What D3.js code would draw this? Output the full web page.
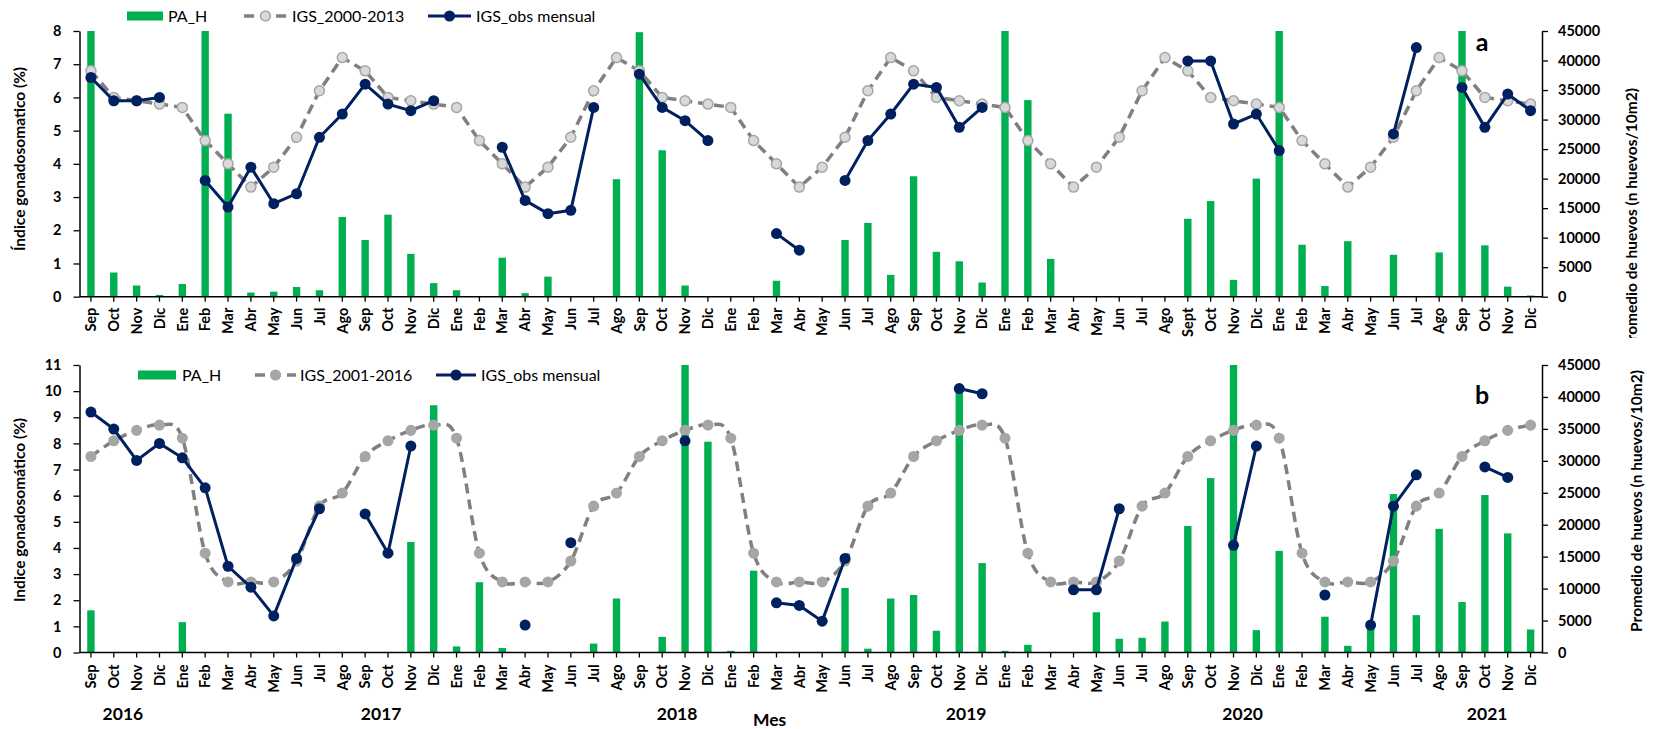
<!DOCTYPE html>
<html><head><meta charset="utf-8">
<script src="https://cdn.jsdelivr.net/npm/d3@7"></script>
<style>
body{margin:0;background:#fff}
svg{display:block}
text{font-family:Lato,"Open Sans",sans-serif;fill:#000}
</style>
</head><body>
<svg id="c" width="1655" height="729"></svg>
<script>
// ---------- DATA ----------
const monthsA = ["Sep","Oct","Nov","Dic","Ene","Feb","Mar","Abr","May","Jun","Jul","Ago",
  "Sep","Oct","Nov","Dic","Ene","Feb","Mar","Abr","May","Jun","Jul","Ago",
  "Sep","Oct","Nov","Dic","Ene","Feb","Mar","Abr","May","Jun","Jul","Ago",
  "Sep","Oct","Nov","Dic","Ene","Feb","Mar","Abr","May","Jun","Jul","Ago",
  "Sept","Oct","Nov","Dic","Ene","Feb","Mar","Abr","May","Jun","Jul","Ago",
  "Sep","Oct","Nov","Dic"];
const monthsB = ["Sep","Oct","Nov","Dic","Ene","Feb","Mar","Abr","May","Jun","Jul","Ago",
  "Sep","Oct","Nov","Dic","Ene","Feb","Mar","Abr","May","Jun","Jul","Ago",
  "Sep","Oct","Nov","Dic","Ene","Feb","Mar","Abr","May","Jun","Jul","Ago",
  "Sep","Oct","Nov","Dic","Ene","Feb","Mar","Abr","May","Jun","Jul","Ago",
  "Sep","Oct","Nov","Dic","Ene","Feb","Mar","Abr","May","Jun","Jul","Ago",
  "Sep","Oct","Nov","Dic"];

// Panel a
const paA = [45000,4100,1900,300,2150,45000,31000,700,850,1650,1100,13500,
  9600,13900,7250,2300,1100,0,6600,600,3400,100,100,19900,
  44800,24800,1900,0,0,100,2700,0,0,9600,12500,3700,
  20400,7600,6000,2400,45000,33300,6400,0,0,0,0,0,
  13200,16200,2850,20000,45000,8800,1800,9400,0,7100,0,7500,
  45000,8700,1700,200];
const igsA = [6.8,6.0,5.9,5.8,5.7,4.7,4.0,3.3,3.9,4.8,6.2,7.2,
  6.8,6.0,5.9,5.8,5.7,4.7,4.0,3.3,3.9,4.8,6.2,7.2,
  6.8,6.0,5.9,5.8,5.7,4.7,4.0,3.3,3.9,4.8,6.2,7.2,
  6.8,6.0,5.9,5.8,5.7,4.7,4.0,3.3,3.9,4.8,6.2,7.2,
  6.8,6.0,5.9,5.8,5.7,4.7,4.0,3.3,3.9,4.8,6.2,7.2,
  6.8,6.0,5.9,5.8];
const obsA = [6.6,5.9,5.9,6.0,null,3.5,2.7,3.9,2.8,3.1,4.8,5.5,
  6.4,5.8,5.6,5.9,null,null,4.5,2.9,2.5,2.6,5.7,null,
  6.7,5.7,5.3,4.7,null,null,1.9,1.4,null,3.5,4.7,5.5,
  6.4,6.3,5.1,5.7,null,null,null,null,null,null,null,null,
  7.1,7.1,5.2,5.5,4.4,null,null,null,null,4.9,7.5,null,
  6.3,5.1,6.1,5.6];

// Panel b
const paB = [6600,0,0,0,4750,0,0,0,0,0,0,0,
  0,0,17300,38700,950,11000,700,0,0,0,1400,8450,
  0,2450,45000,33000,260,12800,0,0,0,10100,600,8450,
  9000,3400,41000,14000,260,1200,0,0,6300,2150,2300,4850,
  19800,27300,45000,3500,15900,0,5600,1050,4400,24800,5850,19350,
  7900,24650,18650,3600];
const igsB = [7.5,8.1,8.5,8.7,8.2,3.8,2.7,2.7,2.7,3.5,5.6,6.1,
  7.5,8.1,8.5,8.7,8.2,3.8,2.7,2.7,2.7,3.5,5.6,6.1,
  7.5,8.1,8.5,8.7,8.2,3.8,2.7,2.7,2.7,3.5,5.6,6.1,
  7.5,8.1,8.5,8.7,8.2,3.8,2.7,2.7,2.7,3.5,5.6,6.1,
  7.5,8.1,8.5,8.7,8.2,3.8,2.7,2.7,2.7,3.5,5.6,6.1,
  7.5,8.1,8.5,8.7];
const obsB = [9.2,8.55,7.35,8.0,7.45,6.3,3.3,2.5,1.4,3.6,5.5,null,
  5.3,3.8,7.9,null,null,null,null,1.05,null,4.2,null,null,
  null,null,8.1,null,null,null,1.9,1.8,1.2,3.6,null,null,
  null,null,10.1,9.9,null,null,null,2.4,2.4,5.5,null,null,
  null,null,4.1,7.9,null,null,2.2,null,1.05,5.6,6.8,null,
  null,7.1,6.7,null];

const yearLabels = ["2016","2017","2018","2019","2020","2021"];
const leftTicksA = [0,1,2,3,4,5,6,7,8];
const leftTicksB = [0,1,2,3,4,5,6,7,8,9,10,11];
const rightTicks = [0,5000,10000,15000,20000,25000,30000,35000,40000,45000];

// ---------- LAYOUT ----------
const W = 1655, H = 729;
const svg = d3.select("#c");
const NAVY = "#002060", GREEN = "#00B050", DGRAY = "#808080";
const x = d3.scaleBand().domain(d3.range(64)).range([79.5, 1542]);
const cx = i => x(i) + x.bandwidth() / 2;

function panel(p) {
  const g = svg.append("g");
  if (p.coverY != null) {
    g.append("rect").attr("x", 0).attr("y", p.coverY).attr("width", W)
      .attr("height", H - p.coverY).attr("fill", "#fff");
  }
  const yL = d3.scaleLinear().domain([0, p.leftMax]).range([p.y0, p.y1]);
  const yR = d3.scaleLinear().domain([0, 45000]).range([p.y0, p.y1]).clamp(true);

  // bars
  g.append("g").selectAll("rect").data(p.pa).join("rect")
    .attr("x", (d, i) => cx(i) - 3.7).attr("width", 7.4)
    .attr("y", d => yR(d)).attr("height", d => p.y0 - yR(d))
    .attr("fill", GREEN);

  // axes
  const styleAxis = (sel) => {
    sel.selectAll("path.domain").attr("stroke", "#000").attr("stroke-width", 1.5);
    sel.selectAll(".tick line").attr("stroke", "#000").attr("stroke-width", 1.3);
    sel.selectAll("text").style("font-size", "14.5px").style("font-weight", "700");
  };
  const ax = g.append("g").attr("transform", `translate(79.5,0)`)
    .call(d3.axisLeft(yL).tickValues(p.leftTicks).tickSize(6).tickSizeOuter(0).tickPadding(12));
  styleAxis(ax);
  const ar = g.append("g").attr("transform", `translate(1542,0)`)
    .call(d3.axisRight(yR).tickValues(rightTicks).tickFormat(d3.format("d"))
      .tickSize(6).tickSizeOuter(0).tickPadding(10));
  styleAxis(ar);
  const ab = g.append("g").attr("transform", `translate(0,${p.y0})`)
    .call(d3.axisBottom(x).tickSize(5).tickSizeOuter(0).tickFormat(i => p.labels[i]));
  styleAxis(ab);
  ab.selectAll("text").attr("transform", "rotate(-90)").attr("text-anchor", "end")
    .attr("x", -p.labOff).attr("y", 0).attr("dy", "0.36em");
  ab.select("path.domain").attr("d", `M79.5,0H1542`);

  // climatology line
  const lineC = d3.line().x((d, i) => cx(i)).y(d => yL(d)).curve(p.smooth ? d3.curveCardinal.tension(0) : d3.curveLinear);
  g.append("path").attr("d", lineC(p.igs)).attr("fill", "none")
    .attr("stroke", DGRAY).attr("stroke-width", 3.5).attr("stroke-dasharray", "10,6");
  g.append("g").selectAll("circle").data(p.igs).join("circle")
    .attr("cx", (d, i) => cx(i)).attr("cy", d => yL(d)).attr("r", p.climR)
    .attr("fill", p.climFill).attr("stroke", p.climStroke).attr("stroke-width", 1.5);

  // observed line
  const lineO = d3.line().defined(d => d != null).x((d, i) => cx(i)).y(d => yL(d));
  g.append("path").attr("d", lineO(p.obs)).attr("fill", "none")
    .attr("stroke", NAVY).attr("stroke-width", 3);
  g.append("g").selectAll("circle").data(p.obs.map((d, i) => ({d, i})).filter(o => o.d != null)).join("circle")
    .attr("cx", o => cx(o.i)).attr("cy", o => yL(o.d)).attr("r", 5.5).attr("fill", NAVY);

  // legend
  const L = p.leg, ly = p.legY;
  const lg = g.append("g");
  lg.append("rect").attr("x", L[0]).attr("y", ly - 4.5).attr("width", L[1] - L[0]).attr("height", 9).attr("fill", GREEN);
  lg.append("text").attr("x", L[2]).attr("y", ly).attr("dy", "0.36em").style("font-size", "16px").text("PA_H");
  lg.append("line").attr("x1", L[3]).attr("x2", L[4]).attr("y1", ly).attr("y2", ly)
    .attr("stroke", DGRAY).attr("stroke-width", 3.5).attr("stroke-dasharray", "10,6");
  lg.append("circle").attr("cx", (L[3] + L[4]) / 2).attr("cy", ly).attr("r", p.climR)
    .attr("fill", p.climFill).attr("stroke", p.climStroke).attr("stroke-width", 1.5);
  lg.append("text").attr("x", L[5]).attr("y", ly).attr("dy", "0.36em").style("font-size", "16px").text(p.climName);
  lg.append("line").attr("x1", L[6]).attr("x2", L[7]).attr("y1", ly).attr("y2", ly)
    .attr("stroke", NAVY).attr("stroke-width", 3);
  lg.append("circle").attr("cx", (L[6] + L[7]) / 2).attr("cy", ly).attr("r", 5.5).attr("fill", NAVY);
  lg.append("text").attr("x", L[8]).attr("y", ly).attr("dy", "0.36em").style("font-size", "16px").text("IGS_obs mensual");

  // titles
  g.append("text").attr("transform", `translate(19,${p.lTitleY}) rotate(-90)`).attr("text-anchor", "middle")
    .attr("dy", "0.36em").style("font-size", "15.5px").style("font-weight", "700").text(p.lTitle);
  g.append("text").attr("transform", `translate(${p.rTitleX},${p.rTitleY}) rotate(-90)`).attr("text-anchor", "middle")
    .attr("dy", "0.36em").style("font-size", "15.5px").style("font-weight", "700").text(p.rTitle);
  g.append("text").attr("x", p.letter[1]).attr("y", p.letter[2]).attr("text-anchor", "middle")
    .attr("dy", "0.36em").style("font-size", "25px").style("font-weight", "700").text(p.letter[0]);
  return g;
}

panel({
  y0: 296.7, y1: 31, leftMax: 8, leftTicks: leftTicksA, labels: monthsA, labOff: 11,
  pa: paA, igs: igsA, obs: obsA, smooth: false,
  climR: 5, climFill: "#d9d9d9", climStroke: "#a6a6a6", climName: "IGS_2000-2013",
  legY: 16, leg: [127, 163, 168, 244, 287, 292, 428, 471, 476],
  lTitle: "Índice gonadosomatico (%)", lTitleY: 159,
  rTitle: "Promedio de huevos (n huevos/10m2)", rTitleX: 1631, rTitleY: 219,
  letter: ["a", 1482, 42]
});

const gb = panel({
  coverY: 338,
  y0: 652.5, y1: 365, leftMax: 11, leftTicks: leftTicksB, labels: monthsB, labOff: 12,
  pa: paB, igs: igsB, obs: obsB, smooth: true,
  climR: 4.8, climFill: "#a6a6a6", climStroke: "#a6a6a6", climName: "IGS_2001-2016",
  legY: 375, leg: [138, 176, 182, 255, 296, 300, 436, 476, 481],
  lTitle: "Indice gonadosomático (%)", lTitleY: 510,
  rTitle: "Promedio de  huevos (n huevos/10m2)", rTitleX: 1636, rTitleY: 501,
  letter: ["b", 1482, 395]
});

// year labels and x title (panel b)
const yearIdx = [1.4, 12.7, 25.65, 38.3, 50.4, 61.1];
gb.append("g").selectAll("text").data(yearLabels).join("text")
  .attr("x", (d, i) => x(0) + x.bandwidth() * (yearIdx[i] + 0.5)).attr("y", 720)
  .attr("text-anchor", "middle").style("font-size", "17.5px").style("font-weight", "700").text(d => d);
gb.append("text").attr("x", x(0) + x.bandwidth() * (29.7 + 0.5)).attr("y", 726)
  .attr("text-anchor", "middle").style("font-size", "17.5px").style("font-weight", "700").text("Mes");
</script>
</body></html>
